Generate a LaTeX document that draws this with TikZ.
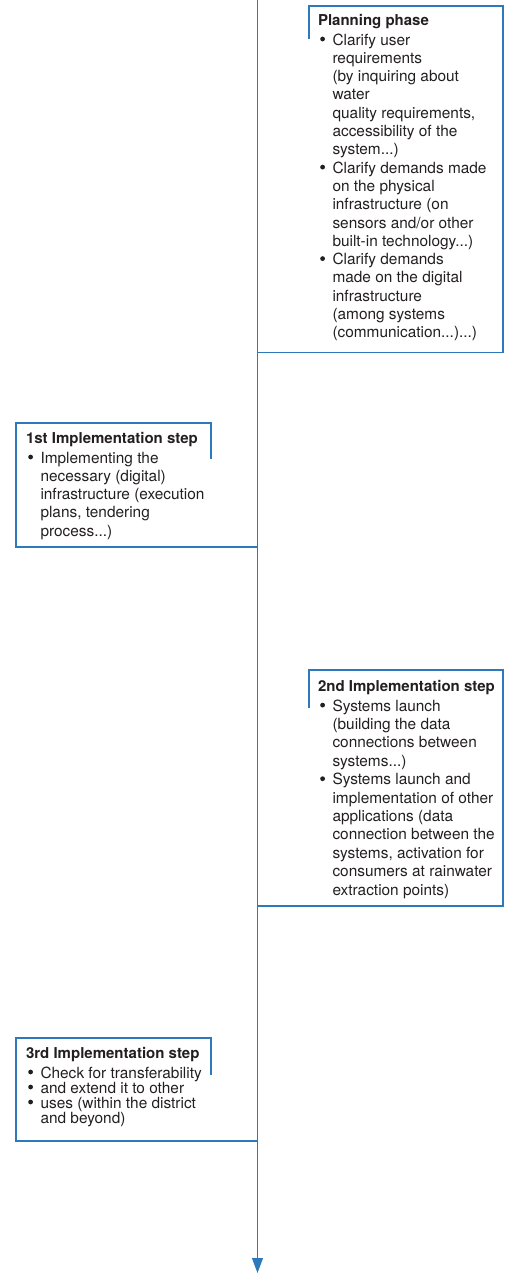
\documentclass[tikz,border=0pt]{standalone}
\usepackage{fontspec}
\setmainfont{TeX Gyre Heros}
\usetikzlibrary{arrows.meta}

\definecolor{lineblue}{RGB}{44,122,188}
\definecolor{ink}{RGB}{35,31,32}

% text blocks: a title line, bullet lines and continuation lines
\newcommand\bulletdot{\tikz[x=1pt,y=1pt,baseline=0pt]\fill[ink] (0,6) circle (2.4pt);}
\newcommand\ttlbox[1]{\hbox{\fontsize{15}{18}\selectfont\bfseries #1}}
\newcommand\ttl[1]{\ttlbox{#1}\vskip 1.7pt}
\newcommand\itm[1]{\hbox{\makebox[14.5pt][l]{\hspace*{2.2pt}\bulletdot}#1}}
\newcommand\cnt[1]{\hbox{\hspace*{14.5pt}#1}}
\newcommand\steptext[2]{\vtop{\fontsize{15.4}{#1}\selectfont\lineskiplimit=-100pt #2}}

\tikzset{
  timeline/.style={draw=lineblue, line width=1.1pt},
  frame/.style={draw=lineblue, line width=1.1pt, line join=miter},
  txt/.style={inner sep=0pt, outer sep=0pt, anchor=base west, text=ink},
}

\begin{document}
\begin{tikzpicture}[x=1pt, y=-1pt]
\useasboundingbox (0,0) rectangle (509,1275);

% time axis
\coordinate (start) at (257.5,0);
\coordinate (end) at (257.5,1273);
\draw[timeline, -{Triangle[width=11pt,length=15pt]}] (start) -- (end);

% Planning phase
\draw[frame] (309,39) -- (309,6) -- (503,6) -- (503,352.5) -- (257.5,352.5);
\node[txt] (plan) at (318,25) {\steptext{18.3pt}{%
  \ttl{Planning phase}
  \itm{Clarify user}
  \cnt{requirements}
  \cnt{(by inquiring about}
  \cnt{water}
  \cnt{quality requirements,}
  \cnt{accessibility of the}
  \cnt{system...)}
  \itm{Clarify demands made}
  \cnt{on the physical}
  \cnt{infrastructure (on}
  \cnt{sensors and/or other}
  \cnt{built-in technology...)}
  \itm{Clarify demands}
  \cnt{made on the digital}
  \cnt{infrastructure}
  \cnt{(among systems}
  \cnt{(communication...)...)}}};

% 1st implementation step
\draw[frame] (211,459) -- (211,423) -- (16,423) -- (16,547) -- (257.5,547);
\node[txt] (step1) at (26,443) {\steptext{18.3pt}{%
  \ttl{1st Implementation step}
  \itm{Implementing the}
  \cnt{necessary (digital)}
  \cnt{infrastructure (execution}
  \cnt{plans, tendering}
  \cnt{process...)}}};

% 2nd implementation step
\draw[frame] (309,708) -- (309,670) -- (503,670) -- (503,906) -- (257.5,906);
\node[txt] (step2) at (318,691) {\steptext{18.4pt}{%
  \ttl{2nd Implementation step}
  \itm{Systems launch}
  \cnt{(building the data}
  \cnt{connections between}
  \cnt{systems...)}
  \itm{Systems launch and}
  \cnt{implementation of other}
  \cnt{applications (data}
  \cnt{connection between the}
  \cnt{systems, activation for}
  \cnt{consumers at rainwater}
  \cnt{extraction points)}}};

% 3rd implementation step
\draw[frame] (211,1075) -- (211,1038) -- (16,1038) -- (16,1141) -- (257.5,1141);
\node[txt] (step3) at (26,1058) {\steptext{15pt}{%
  \ttlbox{3rd Implementation step}\vskip 5pt
  \itm{Check for transferability}
  \itm{and extend it to other}
  \itm{uses (within the district}
  \cnt{and beyond)}}};

\end{tikzpicture}
\end{document}
